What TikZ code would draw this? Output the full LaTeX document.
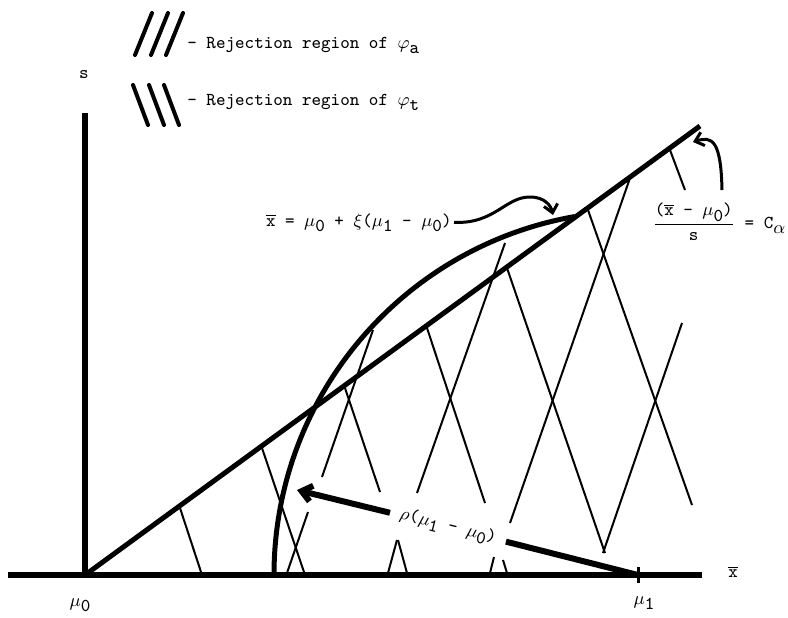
\documentclass[tikz,border=0pt]{standalone}
\usetikzlibrary{arrows.meta}
\newcommand{\lowsub}[1]{\raisebox{-2.6pt}{#1}}

\begin{document}
\begin{tikzpicture}[x=0.5pt, y=-0.5pt,
    every node/.style={font=\fontsize{9.1}{11}\selectfont\ttfamily, inner sep=1pt},
    axis/.style={line width=3pt},
    bound/.style={line width=2.5pt},
    hatch/.style={line width=1pt},
    legendmark/.style={line width=2pt, line cap=round},
    radline/.style={line width=3pt},
    pointer/.style={line width=1.5pt, -{Straight Barb[length=4pt,width=7pt]}}]
    \useasboundingbox (0,0) rectangle (788,617);

    \coordinate (xstart) at (8,575);
    \coordinate (xend) at (702,575);
    \coordinate (mu0) at (85,575);
    \coordinate (stop) at (85,113);
    \coordinate (mu1) at (638,575);
    \coordinate (cend) at (700,126);

    \draw[axis] (xstart) -- (xend);
    \draw[axis] (mu0) -- (stop);
    \draw[bound] (mu0) -- (cend);
    \draw[bound] (mu1) ++(-364,0) arc[start angle=180, end angle=260, radius=364];
    \draw[line width=1.5pt] (mu1) ++(0,-8) -- ++(0,16);

    \foreach \xa/\ya/\xb/\yb in {287/573/308/512, 322/477/373/330, 388/573/397/540,
        417/493/505/243, 490/573/494/557, 510/523/630/178, 603/553/682/323}
      \draw[hatch] (\xa,\ya) -- (\xb,\yb);
    \foreach \xa/\ya/\xb/\yb in {180/508/202/575, 262/448/305/575, 345/388/380/492,
        398/540/407/573, 427/328/485/503, 503/560/507/573, 507/268/605/553,
        588/210/692/505, 670/150/685/190}
      \draw[hatch] (\xa,\ya) -- (\xb,\yb);

    \foreach \dx in {0,16,31} {
      \draw[legendmark] (135+\dx,55) -- (152+\dx,13);
      \draw[legendmark] (133+\dx,85) -- (148+\dx,125);
    }

    \node[anchor=base west] (lega) at (185,48) {- Rejection region of $\varphi$\lowsub{a}};
    \node[anchor=base west] (legt) at (185,105) {- Rejection region of $\varphi$\lowsub{t}};
    \node (slbl) at (84,75) {s};
    \node (xlbl) at (733,572) {$\overline{\mathtt{x}}$};
    \node (mu0lbl) at (80,605) {$\mu$\lowsub{0}};
    \node (mu1lbl) at (644,603) {$\mu$\lowsub{1}};
    \node[anchor=base east] (xilbl) at (454,226)
      {$\overline{\mathtt{x}}$ = $\mu$\lowsub{0} + $\xi$($\mu$\lowsub{1} - $\mu$\lowsub{0})};
    \node[anchor=west] (calbl) at (650,222)
      {$\displaystyle\frac{\mbox{($\overline{\mathtt{x}}$ - $\mu$\lowsub{0})}}{\mbox{s}}$ = C\lowsub{$\alpha$}};
    \node[rotate=-14, inner xsep=5pt] (rholbl) at (448,527)
      {$\rho$($\mu$\lowsub{1} - $\mu$\lowsub{0})};

    \coordinate (rhotip) at (297,490);
    \coordinate (xitip) at (553,215);
    \coordinate (catail) at (722,190);
    \coordinate (catip) at (693,142);

    \draw[radline] (mu1) -- (rholbl);
    \draw[radline, -{Straight Barb[length=5pt,width=8pt]}] (rholbl) -- (rhotip);
    \draw[pointer] (xilbl.east) .. controls (495,224) and (505,197) .. (530,197)
      .. controls (545,197) and (551,206) .. (xitip);
    \draw[pointer] (catail) .. controls (721,140) and (712,136) .. (catip);
  \end{tikzpicture}
\end{document}
